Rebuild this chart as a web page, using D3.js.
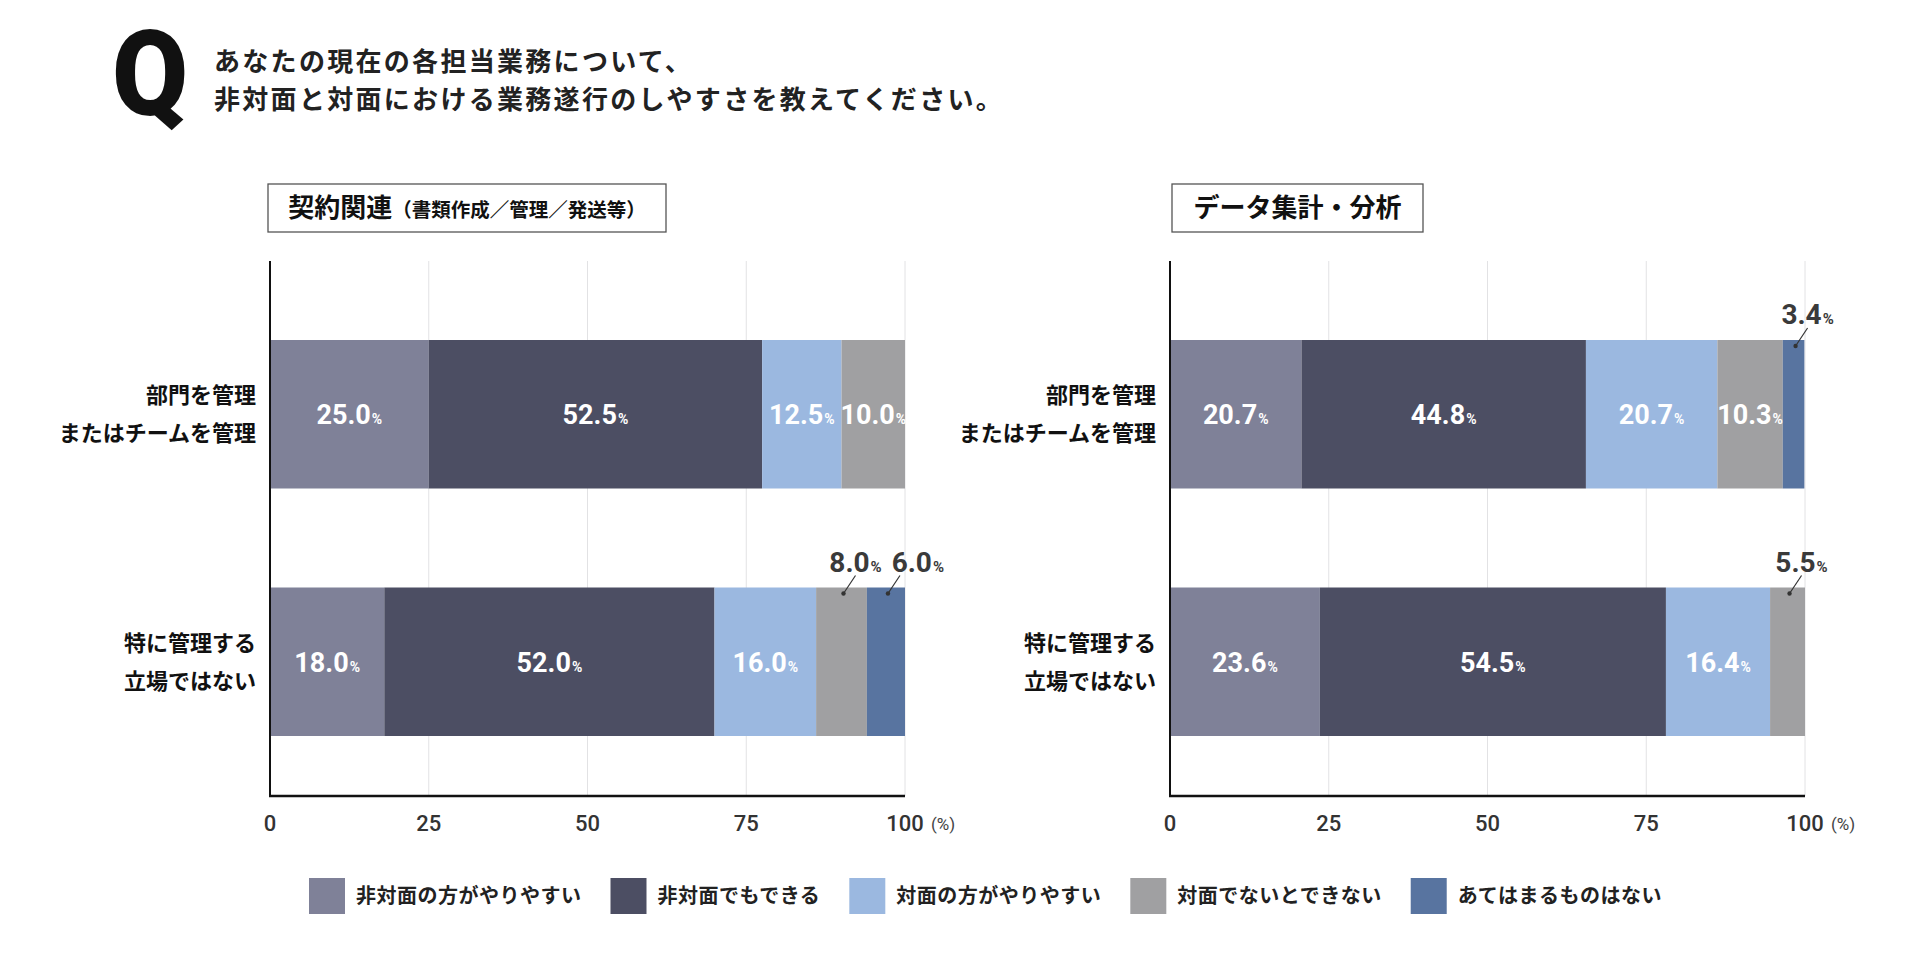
<!DOCTYPE html>
<html>
<head>
<meta charset="utf-8">
<script src="https://cdn.jsdelivr.net/npm/d3@7"></script>
<style>
  body { margin: 0; background: #fff; }
</style>
</head>
<body>
<script>
// ---- data ----
const seriesNames = ['非対面の方がやりやすい', '非対面でもできる', '対面の方がやりやすい', '対面でないとできない', 'あてはまるものはない'];
const seriesColors = ['#7f8198', '#4c4e63', '#9bb8e0', '#a0a0a2', '#5874a0'];
const categories = [['部門を管理', 'またはチームを管理'], ['特に管理する', '立場ではない']];
const contractValues = [[25.0, 52.5, 12.5, 10.0, 0], [18.0, 52.0, 16.0, 8.0, 6.0]];
const analysisValues = [[20.7, 44.8, 20.7, 10.3, 3.4], [23.6, 54.5, 16.4, 5.5, 0]];
const tickValues = [0, 25, 50, 75, 100];
const panelTitles = ['契約関連', 'データ集計・分析'];
const panelSubs = ['（書類作成／管理／発送等）', ''];
const questionLines = ['あなたの現在の各担当業務について、', '非対面と対面における業務遂行のしやすさを教えてください。'];

// ---- layout ----
const W = 1920, H = 955;
const jp = '"Noto Sans CJK JP", "Noto Sans", sans-serif';
const num = 'Roboto, "DejaVu Sans", sans-serif';
const plot_top = 261, plot_bottom = 796;
const bar_top = 340, bar_bottom = 736;
const plot_w = 635;
const inside_min = 9;
const fmt = d3.format('.1f');

const svg = d3.select('body').append('svg')
    .attr('width', W)
    .attr('height', H)
    .style('background', '#fff');

// Q + question
svg.append('text')
    .attr('x', 112).attr('y', 115)
    .attr('textLength', 76).attr('lengthAdjust', 'spacingAndGlyphs')
    .style('font-family', num).style('font-weight', 900)
    .style('font-size', '118px').style('fill', '#111')
    .text('Q');

svg.selectAll('.qline')
    .data(questionLines)
    .join('text')
    .attr('class', 'qline')
    .attr('x', 214)
    .attr('y', (d, i) => 71 + i * 38)
    .style('font-family', jp).style('font-weight', 700)
    .style('font-size', '26px').style('letter-spacing', '2.3px')
    .style('fill', '#222')
    .text(d => d);

const panels = [
    { values: contractValues, x0: 270, boxX: 268, boxW: 398 },
    { values: analysisValues, x0: 1170, boxX: 1172, boxW: 251 }
];

const y = d3.scaleBand()
    .domain(categories.map((d, i) => i))
    .range([bar_top, bar_bottom])
    .paddingInner(0.4)
    .paddingOuter(0);

const stack = d3.stack().keys(seriesNames.map((d, i) => i));

panels.forEach((p, pi) => {
    const g = svg.append('g');
    const x = d3.scaleLinear().domain([0, 100]).range([p.x0, p.x0 + plot_w]);

    // heading box
    g.append('rect')
        .attr('x', p.boxX).attr('y', 184)
        .attr('width', p.boxW).attr('height', 48)
        .attr('fill', 'none').attr('stroke', '#555').attr('stroke-width', 1.3);
    const ht = g.append('text')
        .attr('x', p.boxX + p.boxW / 2).attr('y', 217)
        .attr('text-anchor', 'middle')
        .style('font-family', jp).style('font-weight', 700).style('fill', '#111');
    ht.append('tspan').style('font-size', '26px').text(panelTitles[pi]);
    if (panelSubs[pi]) ht.append('tspan').style('font-size', '19.5px').text(panelSubs[pi]);

    // grid
    g.selectAll('.grid')
        .data(tickValues.slice(1))
        .join('line')
        .attr('x1', d => x(d)).attr('x2', d => x(d))
        .attr('y1', plot_top).attr('y2', plot_bottom)
        .attr('stroke', '#e2e2e4').attr('stroke-width', 1);

    // bars
    const rows = p.values.map(v => Object.assign({}, v));
    const layers = stack(rows);
    layers.forEach((layer, si) => {
        g.selectAll('.seg' + si)
            .data(layer.map((d, ci) => ({ d, ci, v: p.values[ci][si] })).filter(e => e.v > 0))
            .join('rect')
            .attr('x', e => x(e.d[0]))
            .attr('y', e => y(e.ci))
            .attr('width', e => x(e.d[1]) - x(e.d[0]))
            .attr('height', y.bandwidth())
            .attr('fill', seriesColors[si]);
    });

    // value labels
    categories.forEach((c, ci) => {
        let prevRight = -Infinity;
        layers.forEach((layer, si) => {
            const v = p.values[ci][si];
            if (!(v > 0)) return;
            const seg = layer[ci];
            const cx = (x(seg[0]) + x(seg[1])) / 2;
            if (v >= inside_min) {
                const t = g.append('text')
                    .attr('x', cx).attr('y', y(ci) + y.bandwidth() / 2 + 10)
                    .attr('text-anchor', 'middle')
                    .style('font-family', num).style('font-weight', 700).style('fill', '#fff');
                t.append('tspan').style('font-size', '27px').text(fmt(v));
                t.append('tspan').style('font-size', '14px').attr('dx', 1).text('%');
            } else {
                const top = y(ci);
                const dot = [cx + 2, top + 6];
                const tip = [dot[0] + 12, dot[1] - 18];
                g.append('line')
                    .attr('x1', dot[0]).attr('y1', dot[1])
                    .attr('x2', tip[0]).attr('y2', tip[1])
                    .attr('stroke', '#333').attr('stroke-width', 1.2);
                g.append('circle')
                    .attr('cx', dot[0]).attr('cy', dot[1]).attr('r', 2.2)
                    .attr('fill', '#333');
                const t = g.append('text')
                    .attr('x', tip[0]).attr('y', top - 16)
                    .attr('text-anchor', 'middle')
                    .style('font-family', num).style('font-weight', 700).style('fill', '#3a3a3a');
                t.append('tspan').style('font-size', '28px').text(fmt(v));
                t.append('tspan').style('font-size', '15px').attr('dx', 1).text('%');
                const bb = t.node().getBBox();
                if (bb.x < prevRight + 10) {
                    t.attr('x', tip[0] + (prevRight + 10 - bb.x));
                }
                prevRight = t.node().getBBox().x + t.node().getBBox().width;
            }
        });
    });

    // axes
    g.append('line')
        .attr('x1', p.x0).attr('x2', p.x0)
        .attr('y1', plot_top).attr('y2', plot_bottom)
        .attr('stroke', '#111').attr('stroke-width', 2);
    g.append('line')
        .attr('x1', p.x0 - 1).attr('x2', x(100))
        .attr('y1', plot_bottom).attr('y2', plot_bottom)
        .attr('stroke', '#111').attr('stroke-width', 2.5);

    g.selectAll('.tick')
        .data(tickValues)
        .join('text')
        .attr('x', d => x(d)).attr('y', 831)
        .attr('text-anchor', 'middle')
        .style('font-family', num).style('font-weight', 500)
        .style('font-size', '22px').style('fill', '#333')
        .text(d => d);
    g.append('text')
        .attr('x', x(100) + 26).attr('y', 830)
        .style('font-family', num).style('font-weight', 400)
        .style('font-size', '17px').style('fill', '#444')
        .text('(%)');

    // category labels
    categories.forEach((lines, ci) => {
        const cy = y(ci) + y.bandwidth() / 2;
        g.selectAll('.cat' + ci)
            .data(lines)
            .join('text')
            .attr('x', p.x0 - 14)
            .attr('y', (d, li) => cy + (li === 0 ? -19 : 19) + 8)
            .attr('text-anchor', 'end')
            .style('font-family', jp).style('font-weight', 700)
            .style('font-size', '22px').style('fill', '#111')
            .text(d => d);
    });
});

// legend
const legend = svg.append('g');
let lx = 309;
seriesNames.forEach((name, i) => {
    legend.append('rect')
        .attr('x', lx).attr('y', 878)
        .attr('width', 36).attr('height', 36)
        .attr('fill', seriesColors[i]);
    const t = legend.append('text')
        .attr('x', lx + 47).attr('y', 903)
        .style('font-family', jp).style('font-weight', 700)
        .style('font-size', '20px').style('letter-spacing', '0.5px')
        .style('fill', '#222')
        .text(name);
    lx += 47 + t.node().getComputedTextLength() + 29;
});
</script>
</body>
</html>
